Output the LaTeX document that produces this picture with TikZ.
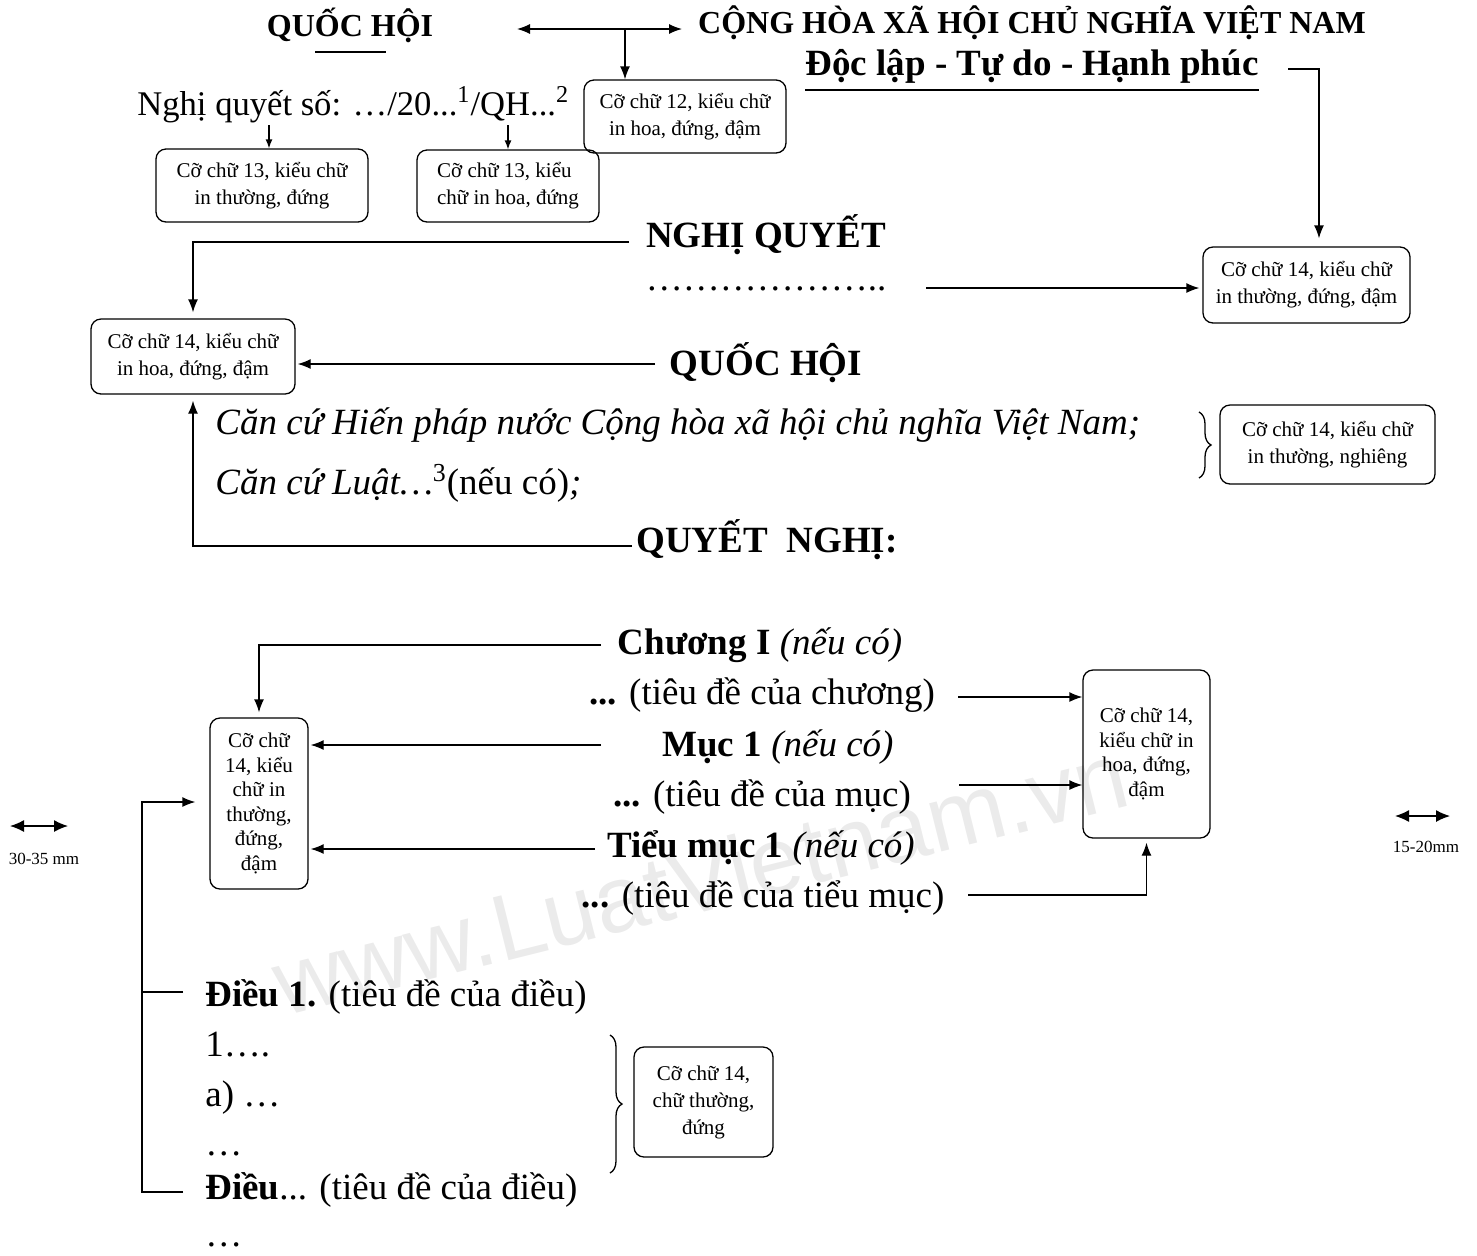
\documentclass[tikz,border=0pt]{standalone}
\usepackage{fontspec}
\setmainfont{Liberation Serif}
\newfontfamily\wmfont{Liberation Sans}
\usetikzlibrary{arrows.meta}
\usetikzlibrary{decorations.pathreplacing}

\newcommand{\headsize}{\fontsize{18.5}{22}\selectfont}
\newcommand{\topsize}{\fontsize{16}{19}\selectfont}
\newcommand{\nqsize}{\fontsize{17.3}{20}\selectfont}
\newcommand{\notesize}{\fontsize{10.5}{13.5}\selectfont}
\newcommand{\tallsize}{\fontsize{10.5}{12.3}\selectfont}
\newcommand{\mmsize}{\fontsize{8.5}{10}\selectfont}

\tikzset{
	>={Latex[length=6.5pt,width=5pt]},
	ln/.style={line width=0.65pt},
	note/.style={draw,ln,rounded corners=5pt,align=center,inner sep=1pt,font=\notesize},
	txt/.style={inner sep=0pt,anchor=base},
	brc/.style={ln,decorate,decoration={brace,amplitude=6pt}}
}

\begin{document}
\begin{tikzpicture}[x=0.5pt,y=-0.5pt]
		\useasboundingbox (0,0) rectangle (1477,1255);
		\node[rotate=14,text=black!8,font=\wmfont\fontsize{47}{50}\selectfont] (wm) at (700,878) {www.LuatVietnam.vn};
		% header
		\node[txt,font=\topsize\bfseries] (qh) at (350,36) {QUỐC HỘI};
		\draw[ln] (315,52)--(386,52);
		\node[txt,font=\topsize\bfseries] (ch) at (1032,33) {CỘNG HÒA XÃ HỘI CHỦ NGHĨA VIỆT NAM};
		\node[txt,font=\headsize\bfseries] (dl) at (1032,75) {Độc lập - Tự do - Hạnh phúc};
		\draw[ln] ([yshift=-7.5pt]dl.base west)--([yshift=-7.5pt]dl.base east);
		\node[txt,anchor=base west,font=\nqsize] (nqs) at (137,115) {Nghị quyết số: …/20...\textsuperscript{1}/QH...\textsuperscript{2}};
		\node[note,align=left,minimum width=91pt,minimum height=36pt] (b13b) at (508,186) {Cỡ chữ 13, kiểu\\chữ in hoa, đứng};
		\node[note,minimum width=101pt,minimum height=36.5pt] (b12) at (685,116.5) {Cỡ chữ 12, kiểu chữ\\in hoa, đứng, đậm};
		\node[note,minimum width=106pt,minimum height=36.5pt] (b13a) at (262,185.5) {Cỡ chữ 13, kiểu chữ\\in thường, đứng};
		\coordinate (a1) at (517,29);
		\coordinate (a2) at (682,29);
		\coordinate (a3) at (625,29);
		\coordinate (a4) at (269,125);
		\coordinate (a5) at (508,125);
		\draw[ln,<->] (a1)--(a2);
		\draw[ln,->] (a3)--(a3 |- b12.north);
		\draw[ln,-{Latex[length=4.5pt,width=3.5pt]}] (a4)--(a4 |- b13a.north);
		\draw[ln,-{Latex[length=4.5pt,width=3.5pt]}] (a5)--(a5 |- b13b.north);
		% title block
		\node[txt,font=\headsize\bfseries] (nq) at (766,247) {NGHỊ QUYẾT};
		\node[txt,font=\headsize] (dots) at (766,290) {………………..};
		\node[txt,font=\headsize\bfseries] (qh2) at (766,375) {QUỐC HỘI};
		\node[txt,anchor=base west,font=\headsize\itshape] (cc1) at (215,434) {Căn cứ Hiến pháp nước Cộng hòa xã hội chủ nghĩa Việt Nam;};
		\node[txt,anchor=base west,font=\headsize] (cc2) at (215,494) {\textit{Căn cứ Luật…}\textsuperscript{3}(nếu có)\textit{;}};
		\node[txt,font=\headsize\bfseries] (qn) at (767,552) {QUYẾT\ \ NGHỊ:};
		\node[note,minimum width=102pt,minimum height=37.5pt] (b14a) at (193,356.5) {Cỡ chữ 14, kiểu chữ\\in hoa, đứng, đậm};
		\node[note,minimum width=103.5pt,minimum height=38pt] (b14b) at (1306.5,285) {Cỡ chữ 14, kiểu chữ\\in thường, đứng, đậm};
		\node[note,minimum width=107.5pt,minimum height=39.5pt] (b14c) at (1327.5,444.5) {Cỡ chữ 14, kiểu chữ\\in thường, nghiêng};
		\coordinate (a6) at (1288,69);
		\coordinate (a7) at (1319,69);
		\coordinate (a8) at (926,288);
		\coordinate (a9) at (629,242);
		\coordinate (a10) at (655,364);
		\coordinate (a11) at (632,546);
		\draw[ln,->,shorten >=4pt] (a6)--(a7)--(a7 |- b14b.north);
		\draw[ln,->,shorten >=1.5pt] (a8)--(a8 -| b14b.west);
		\draw[ln,->,shorten >=3pt] (a9) -| (b14a.north);
		\draw[ln,->,shorten >=1pt] (a10)--(a10 -| b14a.east);
		\draw[ln,->,shorten >=3pt] (a11) -| (b14a.south);
		\coordinate (c1) at (1199,412);
		\coordinate (c2) at (1199,478);
		\draw[brc] (c1)--(c2);
		% chuong, muc
		\node[txt,font=\headsize] (chg) at (760,654) {\textbf{Chương I} \textit{(nếu có)}};
		\node[txt,font=\headsize] (chgt) at (762,704) {\textbf{...} (tiêu đề của chương)};
		\node[txt,font=\headsize] (muc) at (778,756) {\textbf{Mục 1} \textit{(nếu có)}};
		\node[txt,font=\headsize] (muct) at (762,806) {\textbf{...} (tiêu đề của mục)};
		\node[txt,font=\headsize] (tmuc) at (761,857) {\textbf{Tiểu mục 1} \textit{(nếu có)}};
		\node[txt,font=\headsize] (tmuct) at (763,907) {\textbf{...} (tiêu đề của tiểu mục)};
		\node[note,font=\tallsize,minimum width=49pt,minimum height=85.5pt] (b14d) at (259,803.5) {Cỡ chữ\\14, kiểu\\chữ in\\thường,\\đứng,\\đậm};
		\node[note,font=\tallsize,minimum width=63.5pt,minimum height=84pt] (b14e) at (1146.5,754) {Cỡ chữ 14,\\kiểu chữ in\\hoa, đứng,\\đậm};
		\coordinate (a12) at (601,645);
		\coordinate (a13) at (601,745);
		\coordinate (a14) at (595,849);
		\coordinate (a15) at (958,697);
		\coordinate (a16) at (959,785);
		\coordinate (a17) at (968,895);
		\draw[ln,->,shorten >=2.5pt] (a12) -| (b14d.north);
		\draw[ln,->,shorten >=1pt] (a13)--(a13 -| b14d.east);
		\draw[ln,->,shorten >=1pt] (a14)--(a14 -| b14d.east);
		\draw[ln,->] (a15)--(a15 -| b14e.west);
		\draw[ln,->] (a16)--(a16 -| b14e.west);
		\draw[ln,->,shorten >=2pt] (a17) -| (b14e.south);
		% dieu
		\node[txt,anchor=base west,font=\headsize] (d1) at (205,1006) {\textbf{Điều 1.} (tiêu đề của điều)};
		\node[txt,anchor=base west,font=\headsize] (k1) at (205,1056) {1….};
		\node[txt,anchor=base west,font=\headsize] (pa) at (205,1106) {a) …};
		\node[txt,anchor=base west,font=\headsize] (e1) at (205,1155) {…};
		\node[txt,anchor=base west,font=\headsize] (dn) at (205,1199) {\textbf{Điều}... (tiêu đề của điều)};
		\node[txt,anchor=base west,font=\headsize] (e2) at (205,1246) {…};
		\node[note,minimum width=69.5pt,minimum height=55pt] (b14f) at (703.5,1102) {Cỡ chữ 14,\\chữ thường,\\đứng};
		\coordinate (c3) at (610,1035);
		\coordinate (c4) at (610,1173);
		\draw[brc] (c3)--(c4);
		\coordinate (a18) at (183,992);
		\coordinate (a19) at (183,1192);
		\coordinate (a20) at (142,802);
		\draw[ln] (a18)--(a18 -| a20);
		\draw[ln,->,shorten >=7pt] (a19) -| (a20)--(a20 -| b14d.west);
		% margins
		\coordinate (m1) at (10,826);
		\coordinate (m2) at (68,826);
		\coordinate (m3) at (1395,816);
		\coordinate (m4) at (1450,816);
		\draw[ln,{Latex[length=7pt,width=6pt]}-{Latex[length=7pt,width=6pt]}] (m1)--(m2);
		\draw[ln,{Latex[length=7pt,width=6pt]}-{Latex[length=7pt,width=6pt]}] (m3)--(m4);
		\node[txt,font=\mmsize] (mm1) at (44,864) {30-35 mm};
		\node[txt,font=\mmsize] (mm2) at (1426,852) {15-20mm};
\end{tikzpicture}
\end{document}
